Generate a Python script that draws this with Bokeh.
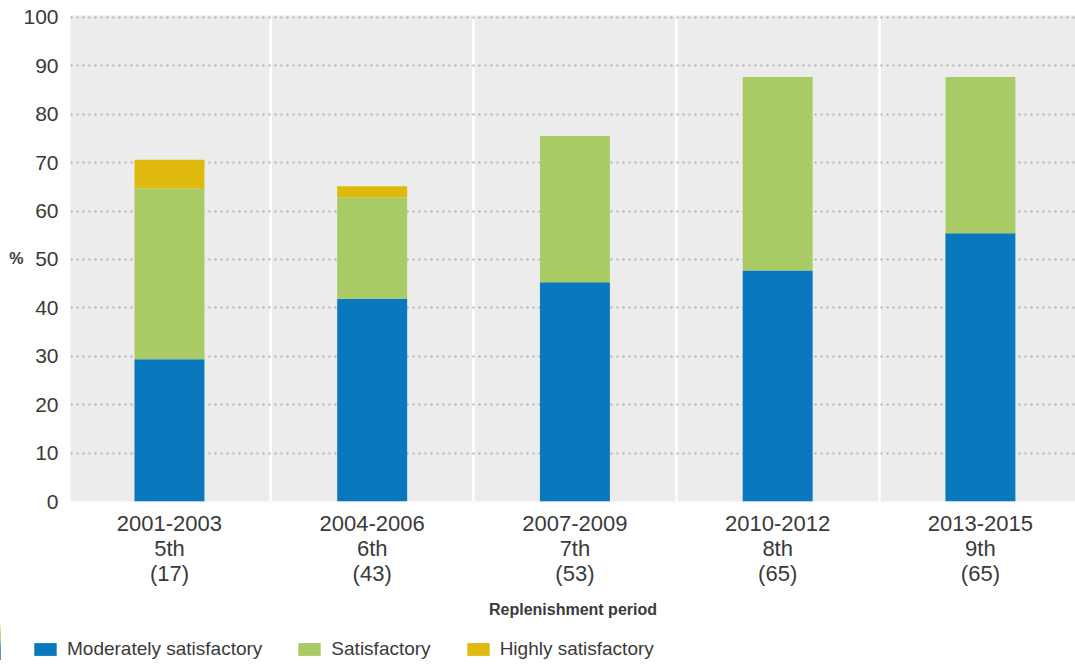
from bokeh.plotting import figure
from bokeh.layouts import column, row
from bokeh.models import ColumnDataSource, Legend, LegendItem, FixedTicker, Range1d
from bokeh.embed import file_html
from bokeh.resources import INLINE

periods = ["2001-2003", "2004-2006", "2007-2009", "2010-2012", "2013-2015"]
replenishments = ["5th", "6th", "7th", "8th", "9th"]
counts = ["(17)", "(43)", "(53)", "(65)", "(65)"]
moderately = [29.4, 41.9, 45.3, 47.7, 55.4]
satisfactory = [35.3, 20.9, 30.2, 40.0, 32.3]
highly = [5.9, 2.3, 0.0, 0.0, 0.0]
series = ["Moderately satisfactory", "Satisfactory", "Highly satisfactory"]
colors = ["#0a78bd", "#a9cb66", "#e0b90f"]
y_ticks = list(range(0, 101, 10))

FONT = "Liberation Sans"
TXT = "#3a3a3a"

xs = list(range(len(periods)))
src = ColumnDataSource(dict(x=xs, m=moderately, s=satisfactory, h=highly))

p = figure(frame_width=1005, frame_height=486, output_backend="svg", toolbar_location=None,
           x_range=Range1d(-0.488, 4.469), y_range=Range1d(0, 100.4),
           min_border_left=70, min_border_right=0, min_border_top=15, min_border_bottom=20)
p.background_fill_color = "#ececec"
p.border_fill_color = "white"
p.outline_line_color = None

rs = p.vbar_stack(["m", "s", "h"], x="x", width=0.345, source=src, color=colors,
                  line_color=None)

# axes
p.yaxis.ticker = FixedTicker(ticks=y_ticks)
p.yaxis.axis_line_color = None
p.yaxis.major_tick_line_color = None
p.yaxis.minor_tick_line_color = None
p.yaxis.major_tick_out = 0
p.yaxis.major_tick_in = 0
p.yaxis.minor_tick_out = 0
p.yaxis.major_label_text_font = FONT
p.yaxis.major_label_text_font_size = "21px"
p.yaxis.major_label_text_color = TXT
p.yaxis.major_label_standoff = 12
p.yaxis.axis_label = "%"
p.yaxis.axis_label_orientation = "horizontal"
p.yaxis.axis_label_text_font = FONT
p.yaxis.axis_label_text_font_size = "16px"
p.yaxis.axis_label_text_font_style = "bold"
p.yaxis.axis_label_text_color = TXT
p.yaxis.axis_label_standoff = -3

p.xaxis.ticker = FixedTicker(ticks=xs)
p.xaxis.major_label_overrides = {i: f"{periods[i]}\n{replenishments[i]}\n{counts[i]}" for i in xs}
p.xaxis.axis_line_color = None
p.xaxis.major_tick_line_color = None
p.xaxis.minor_tick_line_color = None
p.xaxis.major_tick_out = 0
p.xaxis.major_tick_in = 0
p.xaxis.minor_tick_out = 0
p.xaxis.major_label_text_font = FONT
p.xaxis.major_label_text_font_size = "22px"
p.xaxis.major_label_text_line_height = 1.0
p.xaxis.major_label_text_color = TXT
p.xaxis.major_label_standoff = 9
p.xaxis.axis_label = "Replenishment period"
p.xaxis.axis_label_text_font = FONT
p.xaxis.axis_label_text_font_size = "16px"
p.xaxis.axis_label_text_font_style = "bold"
p.xaxis.axis_label_text_color = TXT
p.xaxis.axis_label_standoff = 12

# grids
p.ygrid.ticker = FixedTicker(ticks=y_ticks)
p.ygrid.grid_line_color = "#b3b3b3"
p.ygrid.grid_line_width = 2
p.ygrid.grid_line_dash = "2 4"
p.xgrid.ticker = FixedTicker(ticks=[0.5, 1.5, 2.5, 3.5])
p.xgrid.grid_line_color = "white"
p.xgrid.grid_line_width = 2.5

# legend strip: a small figure whose bars sit outside its visible x range
lf = figure(width=1075, height=40, output_backend="svg", toolbar_location=None,
            x_range=Range1d(100, 101), y_range=Range1d(0, 100),
            min_border_left=0, min_border_right=0, min_border_top=0, min_border_bottom=0)
lf.axis.visible = False
lf.grid.visible = False
lf.outline_line_color = None
lf.background_fill_color = "white"
lrs = lf.vbar_stack(["m", "s", "h"], x="x", width=0.345, source=src, color=colors,
                    line_color=None)
legend = Legend(items=[LegendItem(label=series[i], renderers=[lrs[i]]) for i in range(3)],
                orientation="horizontal", location=(31, 0),
                glyph_width=28, glyph_height=16, label_text_font=FONT,
                label_text_font_size="19px", label_text_color=TXT,
                spacing=33, padding=4, margin=0, border_line_color=None,
                background_fill_alpha=0, label_standoff=8)
lf.add_layout(legend)

open("out.html", "w").write(file_html(column(p, row(lf), spacing=0), INLINE))
